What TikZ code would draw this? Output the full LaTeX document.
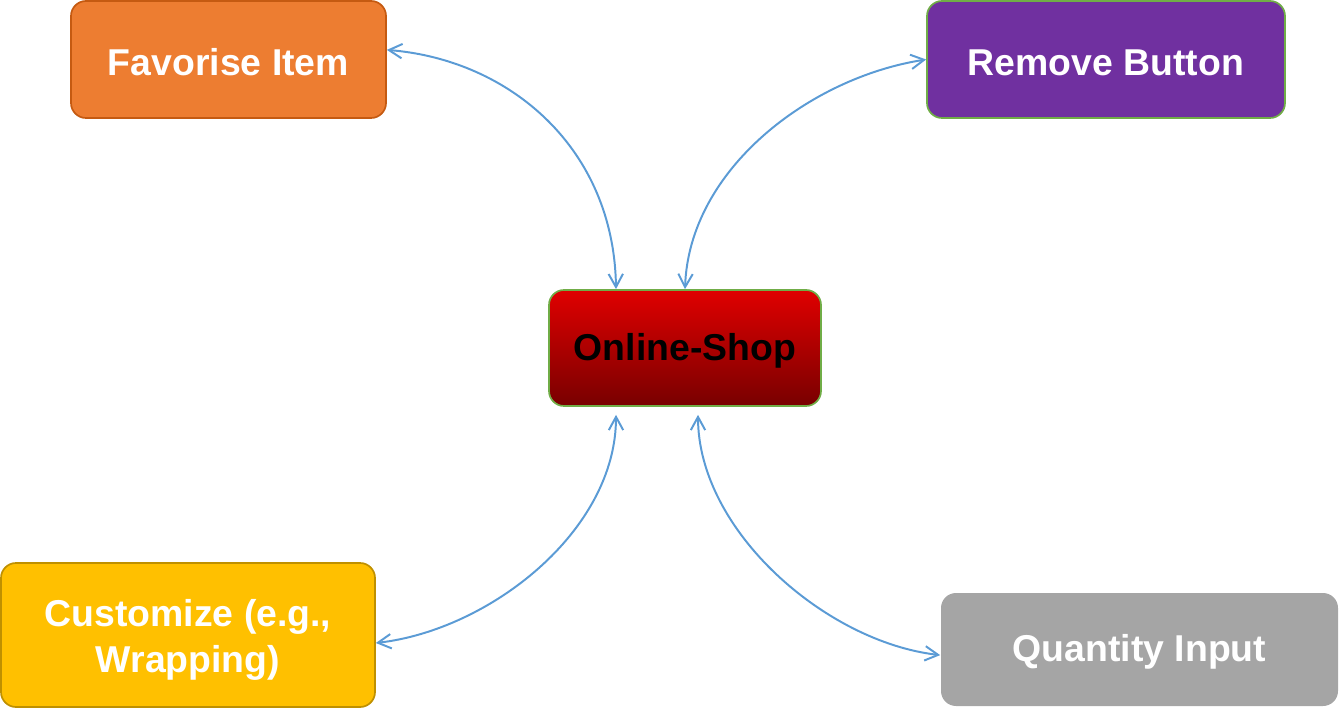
\documentclass[tikz,border=0pt]{standalone}
\usepackage{fontspec}
\setmainfont{Liberation Sans}
\usetikzlibrary{arrows.meta}
\definecolor{favfill}{HTML}{ED7D31}
\definecolor{favline}{HTML}{C55A11}
\definecolor{remfill}{HTML}{7030A0}
\definecolor{greenline}{HTML}{70AD47}
\definecolor{custfill}{HTML}{FFC000}
\definecolor{custline}{HTML}{BF9000}
\definecolor{qtyfill}{HTML}{A5A5A5}
\definecolor{linkblue}{HTML}{5B9BD5}
\definecolor{shoptop}{HTML}{E00000}
\definecolor{shopmid}{HTML}{C60000}
\definecolor{shopbot}{HTML}{780000}
\begin{document}
\begin{tikzpicture}[
    box/.style={rectangle, rounded corners=0.375cm, line width=1.2pt, text=white, align=center, inner sep=0pt,
        font=\bfseries\fontsize{26.6}{32.4}\selectfont, execute at begin node={\rule{0pt}{0.85em}}},
    link/.style={{Straight Barb[length=3.3mm,width=3.6mm]}-{Straight Barb[length=3.3mm,width=3.6mm]}, draw=linkblue, line width=1.4pt}
]
    \useasboundingbox (0,0) rectangle (33.55,17.75);

    \node[box, fill=favfill, draw=favline, minimum width=7.875cm, minimum height=2.925cm] (fav) at (5.7125, 16.2625) {Favorise Item};
    \node[box, fill=remfill, draw=greenline, minimum width=8.95cm, minimum height=2.925cm] (rem) at (27.65, 16.2625) {Remove Button};
    \node[box, top color=shoptop, middle color=shopmid, bottom color=shopbot, draw=greenline, text=black,
        minimum width=6.8cm, minimum height=2.9cm] (shop) at (17.125, 9.05) {Online-Shop};
    \node[box, fill=custfill, draw=custline, minimum width=9.35cm, minimum height=3.6cm] (cust) at (4.7, 1.875)
        {\begin{tabular}{@{}c@{}}\rule{0pt}{30.3pt}Customize (e.g.,\\Wrapping)\end{tabular}};
    \node[box, fill=qtyfill, minimum width=9.925cm, minimum height=2.825cm] (qty) at (28.4875, 1.5125) {Quantity Input};

    \draw[link] ([yshift=0.24cm]fav.east) .. controls +(3.1,-0.25) and +(-0.05,3.5) .. ([xshift=-1.725cm]shop.north);
    \draw[link] (rem.west) .. controls +(-2.9,-0.45) and +(0.1,3.0) .. (shop.north);
    \draw[link] ([yshift=-0.2cm]cust.east) .. controls +(2.85,0.325) and +(0,-2.9) .. ([xshift=-1.725cm,yshift=-0.2cm]shop.south);
    \draw[link] ([yshift=-0.14cm]qty.west) .. controls +(-2.85,0.325) and +(0,-2.9) .. ([xshift=0.325cm,yshift=-0.2cm]shop.south);
\end{tikzpicture}
\end{document}
